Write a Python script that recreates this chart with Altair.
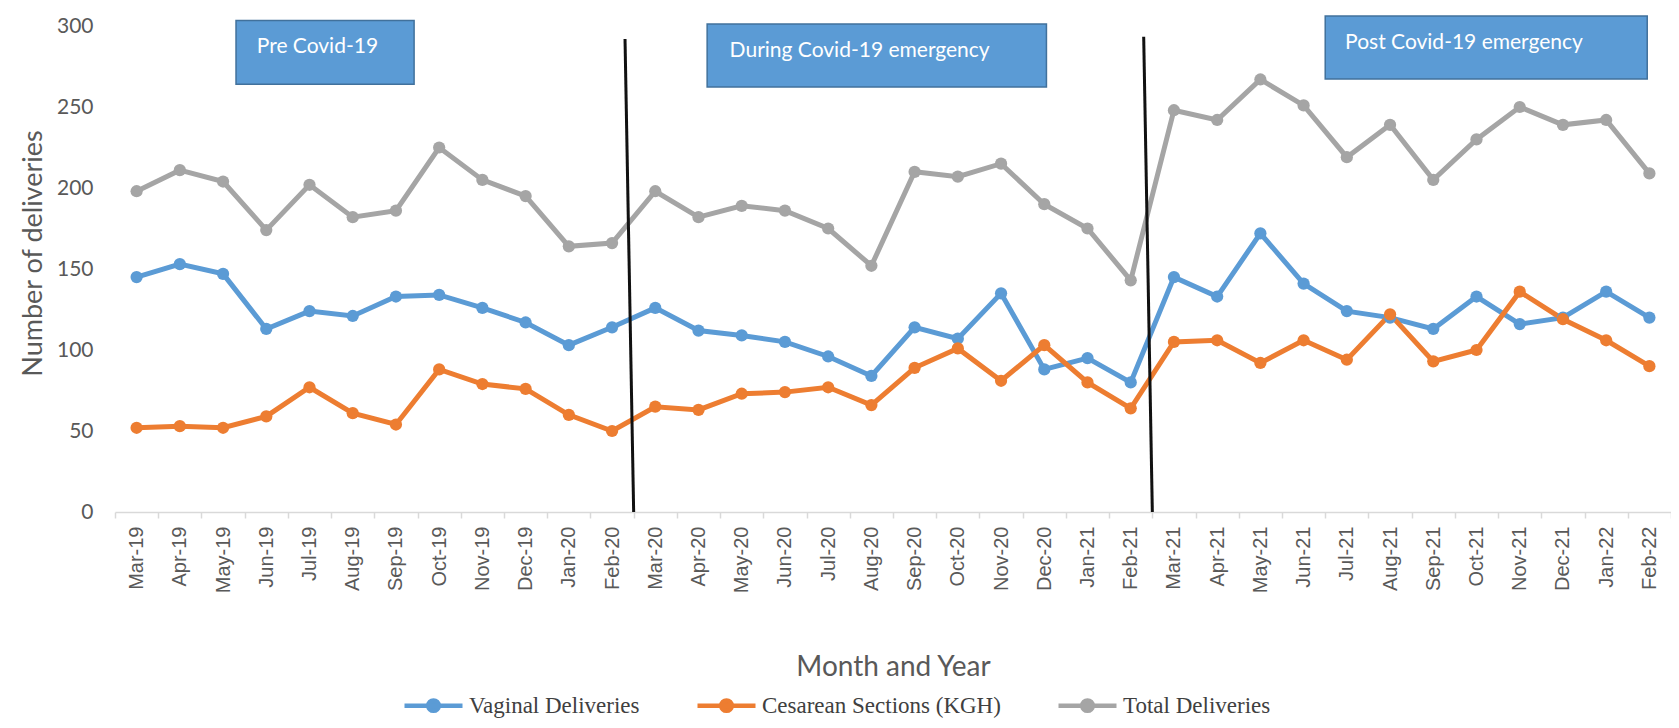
import altair as alt
import pandas as pd

# ---------------- data ----------------
months = ["Mar-19", "Apr-19", "May-19", "Jun-19", "Jul-19", "Aug-19", "Sep-19", "Oct-19",
          "Nov-19", "Dec-19", "Jan-20", "Feb-20", "Mar-20", "Apr-20", "May-20", "Jun-20",
          "Jul-20", "Aug-20", "Sep-20", "Oct-20", "Nov-20", "Dec-20", "Jan-21", "Feb-21",
          "Mar-21", "Apr-21", "May-21", "Jun-21", "Jul-21", "Aug-21", "Sep-21", "Oct-21",
          "Nov-21", "Dec-21", "Jan-22", "Feb-22"]

vaginal = [145, 153, 147, 113, 124, 121, 133, 134, 126, 117, 103, 114,
           126, 112, 109, 105, 96, 84, 114, 107, 135, 88, 95, 80,
           145, 133, 172, 141, 124, 120, 113, 133, 116, 120, 136, 120]

cesarean = [52, 53, 52, 59, 77, 61, 54, 88, 79, 76, 60, 50,
            65, 63, 73, 74, 77, 66, 89, 101, 81, 103, 80, 64,
            105, 106, 92, 106, 94, 122, 93, 100, 136, 119, 106, 90]

total = [198, 211, 204, 174, 202, 182, 186, 225, 205, 195, 164, 166,
         198, 182, 189, 186, 175, 152, 210, 207, 215, 190, 175, 143,
         248, 242, 267, 251, 219, 239, 205, 230, 250, 239, 242, 209]

series_names = ["Vaginal Deliveries", "Cesarean Sections (KGH)", "Total Deliveries"]
series_values = [vaginal, cesarean, total]
series_colors = ["#5B9BD5", "#ED7D31", "#A5A5A5"]

y_ticks = [0, 50, 100, 150, 200, 250, 300]

period_labels = ["Pre Covid-19", "During Covid-19 emergency", "Post Covid-19 emergency"]

# ---------------- annotation layout (month-slot units / value units) ----------------
box_start = [2.8, 13.7, 28.0]
box_end = [6.92, 21.55, 35.45]
box_top = [303.4, 301.2, 306.2]
box_bottom = [264.0, 262.3, 267.3]
text_pos = [3.28, 14.22, 28.46]
text_y = [286.8, 284.6, 289.5]

divider_top_pos = [11.8, 23.8]
divider_bottom_pos = [12.0, 24.0]
divider_top = [292.0, 293.4]
divider_bottom = [0, 0]

# ---------------- tables ----------------
rows = []
for name, vals in zip(series_names, series_values):
    for m, v in zip(months, vals):
        rows.append({"month": m, "series": name, "value": v})
df = pd.DataFrame(rows)

boxes = pd.DataFrame({"start": box_start, "end": box_end, "top": box_top,
                      "bottom": box_bottom, "label": period_labels,
                      "tpos": text_pos, "ty": text_y})
dividers = pd.DataFrame({"tp": divider_top_pos, "bp": divider_bottom_pos,
                         "top": divider_top, "bottom": divider_bottom})

grey = "#595959"
y_title = "Number of deliveries"
slot_scale = alt.Scale(domain=[0, len(months)], nice=False, zero=False)
y_scale = alt.Scale(domain=[0, 300], nice=False)
series_scale = alt.Scale(domain=series_names, range=series_colors)

legend_symbol = "M-1,0L1,0M-0.18,0A0.18,0.18,0,1,1,0.18,0A0.18,0.18,0,1,1,-0.18,0Z"


def make_legend():
    return alt.Legend(title=None, orient="none", legendX=287, legendY=648,
                      direction="horizontal", symbolType=legend_symbol,
                      symbolSize=3364, symbolStrokeWidth=4.5, symbolOpacity=1,
                      labelFont="Liberation Serif", labelFontSize=23, labelLimit=500,
                      labelColor="#404040", labelOffset=4, columnPadding=48,
                      padding=0)


x_enc = alt.X("month:N", sort=months, bandPosition=0.5,
              scale=alt.Scale(type="band", paddingInner=0, paddingOuter=0),
              axis=alt.Axis(title="Month and Year", labelAngle=-90, labelFont="Liberation Sans",
                            labelFontSize=20, labelColor=grey, labelPadding=8, labelOverlap=False,
                            tickBand="extent", ticks=True, tickColor="#d9d9d9", tickSize=6,
                            tickWidth=1.5, domainColor="#d9d9d9", domainWidth=1.5,
                            titleFont="Lato", titleFontSize=28, titleFontWeight="normal",
                            titleColor=grey, titleBaseline="middle", titleY=155))
y_axis = alt.Axis(values=y_ticks, grid=False, domain=False, ticks=False,
                  labelFont="Lato", labelFontSize=21, labelColor=grey, labelPadding=22,
                  title=y_title, titleFont="Lato", titleFontSize=27,
                  titleFontWeight="normal", titleColor=grey, titleBaseline="middle",
                  titleX=-82, titleY=227)

lines = alt.Chart(df).mark_line(strokeWidth=5).encode(
    x=x_enc,
    y=alt.Y("value:Q", scale=y_scale, axis=y_axis, title=y_title),
    stroke=alt.Stroke("series:N", sort=series_names, scale=series_scale, legend=make_legend()),
)

points = alt.Chart(df).mark_circle(size=150, opacity=1).encode(
    x=x_enc,
    y=alt.Y("value:Q", scale=y_scale, axis=y_axis, title=y_title),
    fill=alt.Fill("series:N", sort=series_names, scale=series_scale, legend=make_legend()),
)

series_layer = alt.layer(lines, points)

rects = alt.Chart(boxes).mark_rect(fill="#5B9BD5", stroke="#41719C", strokeWidth=1.5).encode(
    x=alt.X("start:Q", scale=slot_scale, axis=None),
    x2="end:Q",
    y=alt.Y("top:Q", scale=y_scale, title=y_title),
    y2="bottom:Q",
)

texts = alt.Chart(boxes).mark_text(align="left", baseline="middle", font="Lato",
                                    fontSize=21, color="#FFFFFF").encode(
    x=alt.X("tpos:Q", scale=slot_scale, axis=None),
    y=alt.Y("ty:Q", scale=y_scale, title=y_title),
    text="label:N",
)

rules = alt.Chart(dividers).mark_rule(color="#111111", strokeWidth=3).encode(
    x=alt.X("tp:Q", scale=slot_scale, axis=None),
    x2="bp:Q",
    y=alt.Y("top:Q", scale=y_scale, title=y_title),
    y2="bottom:Q",
)

chart = alt.layer(series_layer, rects, texts, rules).resolve_scale(x="independent").properties(
    width=1556, height=486,
    autosize=alt.AutoSizeParams(type="none"),
    padding={"left": 107, "top": 18, "right": 0, "bottom": 208},
    background="white",
).configure_view(stroke=None)

chart.save("out.html", embed_options={"renderer": "svg", "actions": False})
